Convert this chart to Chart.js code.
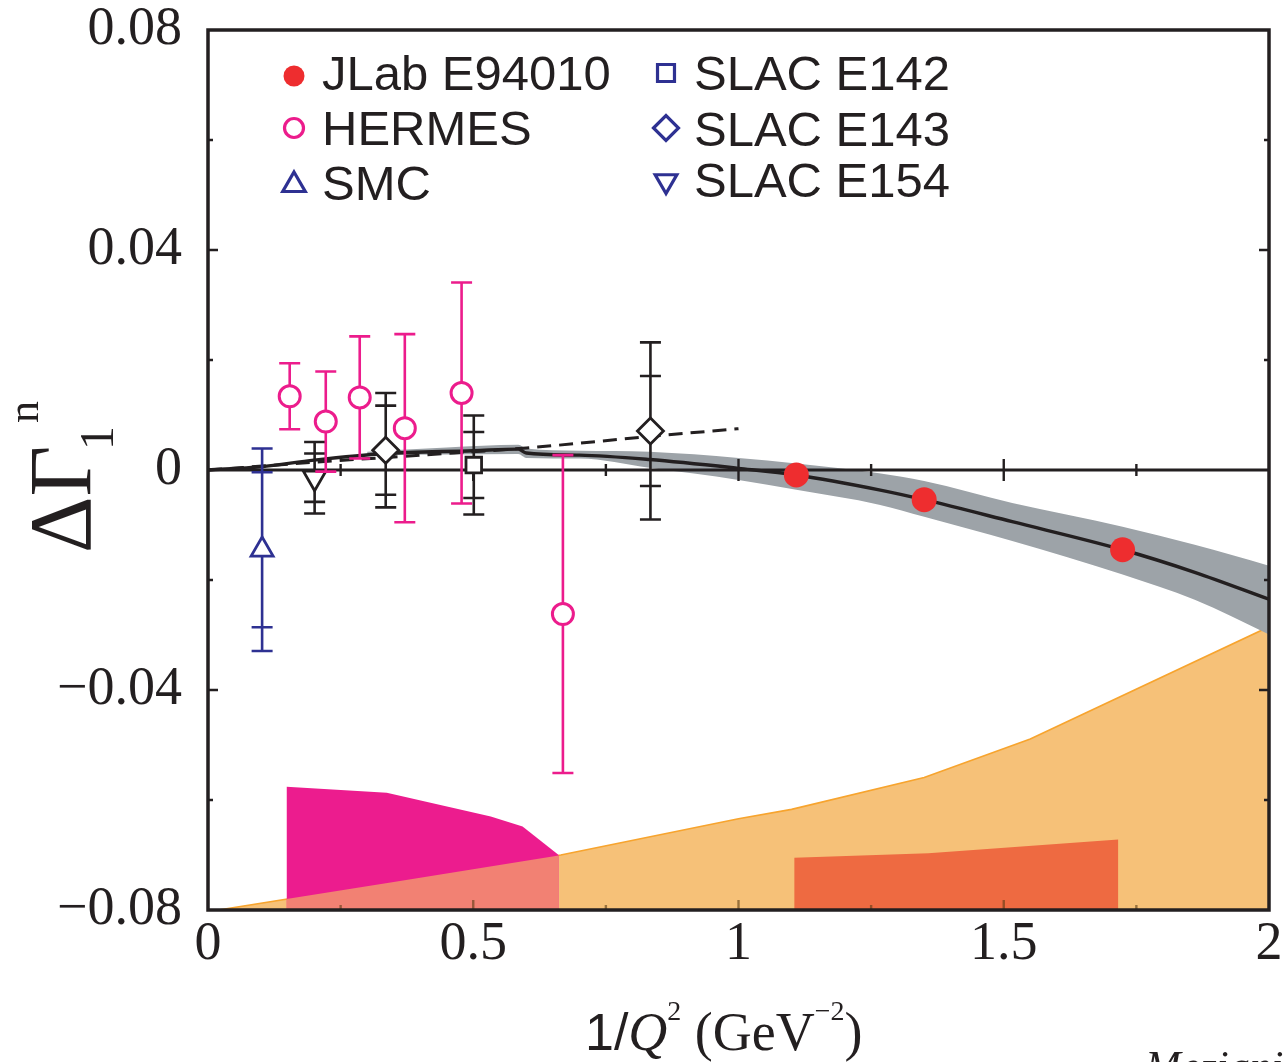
<!DOCTYPE html>
<html>
<head>
<meta charset="utf-8">
<script src="https://cdn.jsdelivr.net/npm/chart.js@4.4.1/dist/chart.umd.min.js"></script>
<style>
  html, body { margin: 0; padding: 0; background: #fff; }
  #wrap { width: 1288px; height: 1062px; }
</style>
</head>
<body>
<div id="wrap"><canvas id="gammaN" width="1288" height="1062"></canvas></div>
<script>
// ---- data ----
// JLab E94010
const jlabX = [1.109, 1.350, 1.724];
const jlabY = [-0.0009, -0.0054, -0.0145];
// HERMES (total error only)
const hermesX = [0.154, 0.222, 0.286, 0.371, 0.478, 0.669];
const hermesY = [0.0134, 0.0088, 0.0132, 0.0076, 0.0140, -0.0262];
const hermesErr = [0.0060, 0.0091, 0.0111, 0.0171, 0.0201, 0.0289];
// SMC
const smcX = [0.102];
const smcY = [-0.0145];
const smcStat = [0.0141];
const smcTot = [0.0184];
// SLAC E142
const e142X = [0.501];
const e142Y = [0.0009];
const e142Stat = [0.0060];
const e142Tot = [0.0090];
// SLAC E143
const e143X = [0.335, 0.834];
const e143Y = [0.0036, 0.0071];
const e143Stat = [0.0081, 0.0100];
const e143Tot = [0.0104, 0.0161];
// SLAC E154
const e154X = [0.201];
const e154Y = [-0.0014];
const e154Stat = [0.0044];
const e154Tot = [0.0065];

// theory curve (solid) and its band
const curveX = [0, 0.1, 0.2, 0.334, 0.5, 0.585, 0.60, 0.7, 0.832, 1.0, 1.109, 1.265, 1.35, 1.516, 1.724, 1.86, 2.0];
const curveY = [0, 0.0006, 0.0018, 0.0030, 0.0035, 0.0038, 0.0031, 0.0027, 0.0019, 0.0003, -0.0009, -0.0036, -0.0054, -0.0094, -0.0145, -0.0186, -0.0235];
const bandX = [0.3, 0.45, 0.585, 0.60, 0.7, 0.832, 1.0, 1.109, 1.265, 1.35, 1.516, 1.724, 1.86, 2.0];
const bandHi = [0.0033, 0.0041, 0.0046, 0.0039, 0.0035, 0.0033, 0.0022, 0.0012, -0.0006, -0.0020, -0.0060, -0.0103, -0.0136, -0.0174];
const bandLo = [0.0027, 0.0028, 0.0029, 0.0022, 0.0021, 0.0004, -0.0018, -0.0036, -0.0063, -0.0085, -0.0129, -0.0190, -0.0236, -0.0299];
// dashed curve
const dashX = [0, 0.2, 0.4, 0.6, 0.832, 1.0];
const dashY = [0, 0.0014, 0.0027, 0.0040, 0.0061, 0.0075];

// systematic error bands along the bottom
const sysWideX = [0.02, 0.35, 0.665, 1.0, 1.1, 1.35, 1.55, 2.0];
const sysWideY = [-0.0800, -0.0749, -0.0700, -0.0634, -0.0617, -0.0559, -0.0489, -0.0285];
const sysHermesX = [0.148, 0.337, 0.533, 0.593, 0.661];
const sysHermesY = [-0.0576, -0.0587, -0.0630, -0.0648, -0.0700];
const sysOverlapX = [0.148, 0.35, 0.661];
const sysOverlapY = [-0.0780, -0.0749, -0.0701];
const sysJlabX = [1.105, 1.358, 1.716];
const sysJlabY = [-0.0705, -0.0697, -0.0672];

const yTicks = [-0.08, -0.04, 0, 0.04, 0.08];
const xTicks = [0, 0.5, 1, 1.5, 2];

// ---- styles ----
const INK = '#231F20';
const RED = '#EE2D2F';
const PINK = '#EC1C8C';
const BLUE = '#2E3192';
const CLEAR = 'rgba(0,0,0,0)';

const pts = (xs, ys) => xs.map((x, i) => ({ x: x, y: ys[i] }));

function fillSet(xs, ys, color, order, edge) {
  return {
    data: pts(xs, ys), order: order, fill: { value: -0.08 },
    backgroundColor: color, borderColor: edge || CLEAR, borderWidth: edge ? 1.6 : 0,
    pointRadius: 0, tension: 0
  };
}

function pointSet(label, xs, ys, o) {
  return Object.assign({
    label: label, data: pts(xs, ys), showLine: false,
    pointBackgroundColor: '#fff', pointBorderWidth: 2.8, pointRotation: 0
  }, o);
}

const datasets = [
  fillSet(sysWideX, sysWideY, '#F6C178', 20, '#F7A42E'),
  fillSet(sysJlabX, sysJlabY, '#EE6A41', 19),
  fillSet(sysHermesX, sysHermesY, '#EC1C8E', 18),
  fillSet(sysOverlapX, sysOverlapY, '#F28173', 17),
  { data: pts(bandX, bandHi), order: 16, fill: '+1', backgroundColor: '#9DA3A8',
    borderColor: CLEAR, borderWidth: 0, pointRadius: 0, cubicInterpolationMode: 'monotone' },
  { data: pts(bandX, bandLo), order: 15, fill: false,
    borderColor: CLEAR, borderWidth: 0, pointRadius: 0, cubicInterpolationMode: 'monotone' },
  { data: pts(curveX, curveY), order: 14, fill: false, borderColor: INK, borderWidth: 3.4,
    pointRadius: 0, cubicInterpolationMode: 'monotone' },
  { data: pts(dashX, dashY), order: 13, fill: false, borderColor: INK, borderWidth: 3,
    borderDash: [14, 8], pointRadius: 0, cubicInterpolationMode: 'monotone', zeroAfter: true },
  pointSet('SMC', smcX, smcY, { order: 6, pointStyle: 'triangle', pointRadius: 12.7,
    pointBorderColor: BLUE, errStat: smcStat, errTot: smcTot, barColor: BLUE,
    legend: { col: 1, row: 2, color: BLUE, fill: '#fff', r: 13 } }),
  pointSet('SLAC E154', e154X, e154Y, { order: 5, pointStyle: 'triangle', pointRotation: 180,
    pointRadius: 13, pointBorderColor: INK, errStat: e154Stat, errTot: e154Tot, barColor: INK,
    legend: { col: 2, row: 2, color: BLUE, fill: '#fff', r: 12.5 } }),
  pointSet('SLAC E143', e143X, e143Y, { order: 4, pointStyle: 'rectRot', pointRadius: 13,
    pointBorderColor: INK, errStat: e143Stat, errTot: e143Tot, barColor: INK,
    legend: { col: 2, row: 1, color: BLUE, fill: '#fff', r: 12.5 } }),
  pointSet('SLAC E142', e142X, e142Y, { order: 3, pointStyle: 'rect', pointRadius: 11,
    pointBorderColor: INK, errStat: e142Stat, errTot: e142Tot, barColor: INK,
    legend: { col: 2, row: 0, color: BLUE, fill: '#fff', r: 12 } }),
  pointSet('HERMES', hermesX, hermesY, { order: 2, pointStyle: 'circle', pointRadius: 10.5,
    pointBorderWidth: 3, pointBorderColor: PINK, errTot: hermesErr, barColor: PINK,
    legend: { col: 1, row: 1, color: PINK, fill: '#fff', r: 9.5 } }),
  pointSet('JLab E94010', jlabX, jlabY, { order: 1, pointStyle: 'circle', pointRadius: 12.5,
    pointBorderWidth: 0, pointBackgroundColor: RED, pointBorderColor: RED,
    legend: { col: 1, row: 0, color: RED, fill: RED, r: 10.5 } })
];

// error bars: drawn right before the markers of the same dataset
const errorBars = {
  id: 'errorBars',
  beforeDatasetDraw(chart, args) {
    const ds = chart.data.datasets[args.index];
    if (!ds.errTot && !ds.errStat) return;
    const ctx = chart.ctx, xs = chart.scales.x, ys = chart.scales.y;
    const cap = 10.5;
    ctx.save();
    ctx.strokeStyle = ds.barColor;
    ctx.lineWidth = 2.6;
    ds.data.forEach((p, i) => {
      const px = xs.getPixelForValue(p.x);
      const errs = [ds.errStat && ds.errStat[i], ds.errTot && ds.errTot[i]].filter(e => e);
      const outer = Math.max.apply(null, errs);
      ctx.beginPath();
      ctx.moveTo(px, ys.getPixelForValue(p.y + outer));
      ctx.lineTo(px, ys.getPixelForValue(p.y - outer));
      errs.forEach(e => {
        [p.y + e, p.y - e].forEach(v => {
          const py = ys.getPixelForValue(v);
          ctx.moveTo(px - cap, py);
          ctx.lineTo(px + cap, py);
        });
      });
      ctx.stroke();
    });
    ctx.restore();
  }
};

// horizontal axis at zero with its own tick marks
const zeroAxis = {
  id: 'zeroAxis',
  afterDatasetDraw(chart, args) {
    if (!chart.data.datasets[args.index].zeroAfter) return;
    const ctx = chart.ctx, a = chart.chartArea, xs = chart.scales.x;
    const py = chart.scales.y.getPixelForValue(0);
    ctx.save();
    ctx.strokeStyle = INK;
    ctx.lineWidth = 3;
    ctx.beginPath();
    ctx.moveTo(a.left, py);
    ctx.lineTo(a.right, py);
    ctx.stroke();
    ctx.lineWidth = 2.4;
    for (let k = 1; k < 8; k++) {
      const px = xs.getPixelForValue(k * 0.25);
      const len = k % 2 === 0 ? 11 : 6;
      ctx.beginPath();
      ctx.moveTo(px, py - len);
      ctx.lineTo(px, py + len);
      ctx.stroke();
    }
    ctx.restore();
  }
};

// frame with inward ticks, legend and axis titles
const decorations = {
  id: 'decorations',
  afterDraw(chart) {
    const ctx = chart.ctx, a = chart.chartArea, xs = chart.scales.x, ys = chart.scales.y;
    ctx.save();
    // inward ticks
    ctx.lineWidth = 2.4;
    ctx.strokeStyle = INK;
    for (let k = -3; k <= 3; k++) {
      if (k === 0) continue;
      const py = ys.getPixelForValue(k * 0.02);
      const len = k % 2 === 0 ? 10 : 5;
      ctx.beginPath();
      ctx.moveTo(a.left, py); ctx.lineTo(a.left + len, py);
      ctx.moveTo(a.right, py); ctx.lineTo(a.right - len, py);
      ctx.stroke();
    }
    ctx.strokeStyle = 'rgba(90,60,20,0.6)';
    for (let k = 1; k < 8; k++) {
      const px = xs.getPixelForValue(k * 0.25);
      const len = k % 2 === 0 ? 10 : 5;
      ctx.beginPath();
      ctx.moveTo(px, a.bottom); ctx.lineTo(px, a.bottom - len);
      ctx.stroke();
    }
    // frame
    ctx.strokeStyle = INK;
    ctx.lineWidth = 3.5;
    ctx.strokeRect(a.left, a.top, a.right - a.left, a.bottom - a.top);

    // legend
    const colText = { 1: 322, 2: 694 };
    const colMark = { 1: 294, 2: 666 };
    const rowBase = { 1: [90, 145, 200], 2: [90, 146, 197] };
    const rowMark = { 1: [76, 128, 185], 2: [73, 128, 181] };
    ctx.textBaseline = 'alphabetic';
    ctx.textAlign = 'left';
    chart.data.datasets.forEach(ds => {
      const lg = ds.legend;
      if (!lg) return;
      ctx.fillStyle = lg.fill;
      ctx.strokeStyle = lg.color;
      const bw = lg.fill === lg.color ? 0 : 3.2;
      ctx.lineWidth = bw;
      Chart.helpers.drawPoint(ctx, {
        pointStyle: ds.pointStyle, rotation: ds.pointRotation || 0,
        radius: lg.r, borderWidth: bw
      }, colMark[lg.col], rowMark[lg.col][lg.row]);
      ctx.fillStyle = INK;
      ctx.font = '49px "Liberation Sans", Arial, sans-serif';
      ctx.fillText(ds.label, colText[lg.col], rowBase[lg.col][lg.row]);
    });

    // x title: 1/Q^2 (GeV^-2)
    ctx.fillStyle = INK;
    const runs = [
      ['1/', '52px "Liberation Sans", Arial, sans-serif', 0],
      ['Q', 'italic 54px "Liberation Serif", serif', 0],
      ['2', '28px "Liberation Serif", serif', -30],
      [' (GeV', '54px "Liberation Serif", serif', 0],
      ['\u22122', '28px "Liberation Serif", serif', -30],
      [')', '54px "Liberation Serif", serif', 0]
    ];
    let tx = 585;
    runs.forEach(r => {
      ctx.font = r[1];
      ctx.fillText(r[0], tx, 1050 + r[2]);
      tx += ctx.measureText(r[0]).width;
    });

    // y title: ΔΓ_1^n, rotated
    ctx.translate(90, 553);
    ctx.rotate(-Math.PI / 2);
    ctx.font = '88px "Liberation Serif", serif';
    ctx.fillText('\u0394\u0393', 0, 0);
    ctx.font = '48px "Liberation Serif", serif';
    ctx.fillText('1', 103, 23);
    ctx.font = '44px "Liberation Serif", serif';
    ctx.fillText('n', 130, -52);
    ctx.setTransform(1, 0, 0, 1, 0, 0);

    // author note cut off at the bottom edge
    ctx.font = 'italic 43px "Liberation Serif", serif';
    ctx.fillText('Meziani', 1145, 1080);
    ctx.restore();
  }
};

const tickFont = { family: '"Liberation Serif", serif', size: 54, lineHeight: 1 };

new Chart(document.getElementById('gammaN'), {
  type: 'line',
  data: { datasets: datasets },
  options: {
    responsive: false,
    animation: false,
    devicePixelRatio: 1,
    events: [],
    layout: { padding: { top: 30, right: 19, left: 0, bottom: 0 } },
    plugins: { legend: { display: false }, tooltip: { enabled: false } },
    scales: {
      x: {
        type: 'linear', min: 0, max: 2,
        grid: { display: false, drawTicks: false },
        border: { display: false },
        afterBuildTicks: s => { s.ticks = xTicks.map(v => ({ value: v })); },
        afterFit: s => { s.height = 152; s.paddingLeft = 0; s.paddingRight = 0; },
        ticks: {
          padding: 8, color: INK, font: tickFont, maxRotation: 0, autoSkip: false,
          callback: v => String(Math.round(v * 10) / 10)
        }
      },
      y: {
        type: 'linear', min: -0.08, max: 0.08,
        grid: { display: false, drawTicks: false },
        border: { display: false },
        afterBuildTicks: s => { s.ticks = yTicks.map(v => ({ value: v })); },
        afterFit: s => { s.width = 208; s.paddingTop = 0; s.paddingBottom = 0; },
        ticks: {
          padding: 26, color: INK, font: tickFont, autoSkip: false,
          callback: v => {
            const r = Math.round(v * 100) / 100;
            if (r === 0) return '0';
            return (r < 0 ? '\u2212' : '') + Math.abs(r).toFixed(2);
          }
        }
      }
    }
  },
  plugins: [errorBars, zeroAxis, decorations]
});
</script>
</body>
</html>
